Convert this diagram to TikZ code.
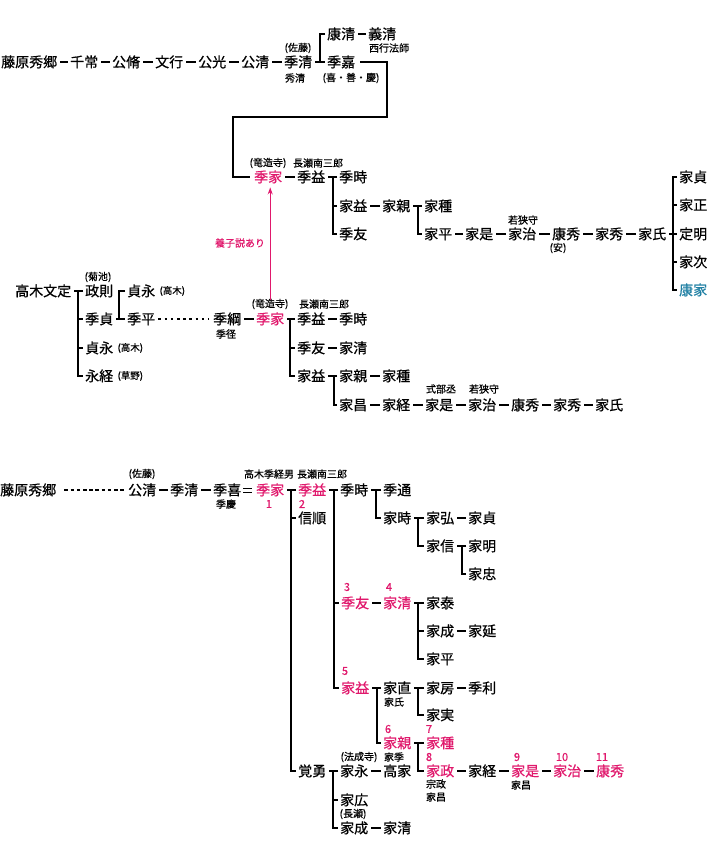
\documentclass[tikz,border=0pt]{standalone}
\usepackage{fontspec}
\setmainfont{Noto Sans CJK JP}[FakeBold=0.7]
\usetikzlibrary{arrows.meta}
\definecolor{kred}{HTML}{E0186C}
\definecolor{kteal}{HTML}{1F7FA3}
\begin{document}
\begin{tikzpicture}[x=1pt,y=-1pt,
  nm/.style={font=\fontsize{14}{14}\selectfont, inner sep=0pt, anchor=west, text height=11.4pt, text depth=1pt},
  rd/.style={nm, text=kred},
  sm/.style={font=\fontsize{10}{10}\selectfont, inner sep=0pt},
  xs/.style={font=\fontsize{9.5}{10}\selectfont, inner sep=0pt, anchor=west},
  num/.style={font=\fontsize{11}{11}\selectfont, inner sep=0pt, text=kred},
  ln/.style={line width=2.8pt, line join=miter},
  lk/.style={ln, shorten <=3pt, shorten >=2.5pt},
  arr/.style={kred, line width=1.1pt, -{Stealth[length=7pt,width=5pt]}}]
\useasboundingbox (0,0) rectangle (726,842);

% ---------------- section 1 ----------------
\node[nm] (a1) at (1,62) {藤原秀郷};
\node[nm] (a2) at (70,62) {千常};
\node[nm] (a3) at (112,62) {公脩};
\node[nm] (a4) at (155,62) {文行};
\node[nm] (a5) at (198,62) {公光};
\node[nm] (a6) at (241,62) {公清};
\node[nm] (a7) at (284,62) {季清};
\node[sm] (a7t) at (298,48) {(佐藤)};
\node[sm] (a7b) at (295,78) {秀清};
\node[nm] (a8) at (327,34) {康清};
\node[nm] (a9) at (368,34) {義清};
\node[sm] (a9b) at (389,48) {西行法師};
\node[nm] (a10) at (327,62) {季嘉};
\node[sm] (a10b) at (351,78) {(喜・善・慶)};
\coordinate (v0) at (320,0);
\foreach \p/\q in {a1/a2,a2/a3,a3/a4,a4/a5,a5/a6,a6/a7,a7/a10,a8/a9}
  \draw[lk] (\p.east) -- (\q.west);
\draw[ln] ([xshift=-2pt]a8.west) -| (v0 |- a10.west);

\node[rd] (b1) at (254,177) {季家};
\node[sm] (b1t) at (268,163) {(竜造寺)};
\node[sm] (b1u) at (318,163) {長瀬南三郎};
\coordinate (t1) at (387,117);
\coordinate (t2) at (233,117);
\draw[ln] ([xshift=5pt]a10.east) -| (t1) -- (t2) |- ([xshift=-4pt]b1.west);

\node[nm] (b2) at (297,177) {季益};
\node[nm] (b3) at (339,177) {季時};
\node[nm] (b4) at (339,206) {家益};
\node[nm] (b5) at (339,234) {季友};
\node[nm] (b6) at (382,206) {家親};
\node[nm] (b7) at (424,206) {家種};
\node[nm] (b8) at (424,234) {家平};
\node[nm] (b9) at (465,234) {家是};
\node[nm] (b10) at (508,234) {家治};
\node[sm] (b10t) at (523,220) {若狭守};
\node[nm] (b11) at (552,234) {康秀};
\node[sm] (b11b) at (558,248) {(安)};
\node[nm] (b12) at (595,234) {家秀};
\node[nm] (b13) at (638,234) {家氏};
\node[nm] (b14) at (679,177) {家貞};
\node[nm] (b15) at (679,205) {家正};
\node[nm] (b16) at (679,234) {定明};
\node[nm] (b17) at (679,262) {家次};
\node[nm, text=kteal] (b18) at (679,290) {康家};
\coordinate (v1) at (333,0);
\coordinate (v2) at (418,0);
\coordinate (v3) at (673,0);
\foreach \p/\q in {b1/b2,b2/b3,b4/b6,b6/b7,b8/b9,b9/b10,b10/b11,b11/b12,b12/b13,b13/b16}
  \draw[lk] (\p.east) -- (\q.west);
\draw[ln] ([xshift=-2pt]b3.west) -| (v1 |- b5.west) -- ([xshift=-2pt]b5.west);
\draw[ln] (v1 |- b4.west) -- ([xshift=-2pt]b4.west);
\draw[ln] ([xshift=-2pt]b7.west) -| (v2 |- b8.west) -- ([xshift=-2pt]b8.west);
\draw[ln] ([xshift=-2pt]b14.west) -| (v3 |- b18.west) -- ([xshift=-2pt]b18.west);
\foreach \c in {b15,b17} \draw[ln] (v3 |- \c.west) -- ([xshift=-2pt]\c.west);

% ---------------- section 2 ----------------
\node[nm] (c1) at (15,291) {高木文定};
\node[nm] (c2) at (85,291) {政則};
\node[sm] (c2t) at (98,277) {(菊池)};
\node[nm] (c3) at (85,319) {季貞};
\node[nm] (c4) at (85,348) {貞永};
\node[xs] (c4r) at ([xshift=4pt]c4.east) {(高木)};
\node[nm] (c5) at (85,376) {永経};
\node[xs] (c5r) at ([xshift=4pt]c5.east) {(草野)};
\node[nm] (c6) at (127,291) {貞永};
\node[xs] (c6r) at ([xshift=4pt]c6.east) {(高木)};
\node[nm] (c7) at (127,319) {季平};
\node[nm] (c8) at (213,319) {季綱};
\node[sm] (c8b) at (226,334) {季径};
\node[rd] (c9) at (256,319) {季家};
\node[sm] (c9t) at (270,304) {(竜造寺)};
\node[sm] (c9u) at (324,304) {長瀬南三郎};
\node[nm] (c10) at (297,319) {季益};
\node[nm] (c11) at (339,319) {季時};
\node[nm] (c12) at (297,348) {季友};
\node[nm] (c13) at (339,348) {家清};
\node[nm] (c14) at (297,376) {家益};
\node[nm] (c15) at (339,376) {家親};
\node[nm] (c16) at (382,376) {家種};
\node[nm] (c17) at (339,405) {家昌};
\node[nm] (c18) at (382,405) {家経};
\node[nm] (c19) at (425,405) {家是};
\node[sm] (c19t) at (441,389) {式部丞};
\node[nm] (c20) at (468,405) {家治};
\node[sm] (c20t) at (484,389) {若狭守};
\node[nm] (c21) at (511,405) {康秀};
\node[nm] (c22) at (553,405) {家秀};
\node[nm] (c23) at (595,405) {家氏};
\coordinate (v4) at (78,0);
\coordinate (v5) at (119,0);
\coordinate (v6) at (290,0);
\coordinate (v7) at (334,0);
\foreach \p/\q in {c1/c2,c3/c7,c8/c9,c9/c10,c10/c11,c12/c13,c14/c15,c15/c16,c17/c18,c18/c19,c19/c20,c20/c21,c21/c22,c22/c23}
  \draw[lk] (\p.east) -- (\q.west);
\draw[ln, dash pattern=on 2.6pt off 3.6pt] ([xshift=3pt]c7.east) -- ([xshift=-4pt]c8.west);
\draw[ln] ([xshift=-2pt]c2.west) -| (v4 |- c5.west) -- ([xshift=-2pt]c5.west);
\foreach \c in {c3,c4} \draw[ln] (v4 |- \c.west) -- ([xshift=-2pt]\c.west);
\draw[ln] ([xshift=-2pt]c6.west) -| (v5 |- c7.west);
\draw[ln] ([xshift=-2pt]c10.west) -| (v6 |- c14.west) -- ([xshift=-2pt]c14.west);
\draw[ln] (v6 |- c12.west) -- ([xshift=-2pt]c12.west);
\draw[ln] ([xshift=-2pt]c15.west) -| (v7 |- c17.west) -- ([xshift=-2pt]c17.west);

% adoption arrow
\coordinate (ar) at (c9.north |- b1.south);
\draw[arr] ([yshift=13pt]c9.north) -- ([yshift=-4pt]ar);
\node[sm, text=kred] (ys) at (240,243) {養子説あり};

% ---------------- section 3 ----------------
\node[nm] (d1) at (0,490) {藤原秀郷};
\node[nm] (d2) at (128,490) {公清};
\node[sm] (d2t) at (142,474) {(佐藤)};
\node[nm] (d3) at (170,490) {季清};
\node[nm] (d4) at (213,490) {季喜};
\node[sm] (d4b) at (226,504) {季慶};
\node[rd] (d5) at (256,490) {季家};
\node[num] (n1) at (269,504) {1};
\node[sm] (d5t) at (269,474) {高木季経男};
\node[sm] (d5u) at (322,474) {長瀬南三郎};
\node[rd] (d6) at (298,490) {季益};
\node[num] (n2) at (302,504) {2};
\node[nm] (d7) at (298,518) {信順};
\node[nm] (d8) at (340,490) {季時};
\node[nm] (d9) at (383,490) {季通};
\node[nm] (d10) at (383,518) {家時};
\node[nm] (d11) at (426,518) {家弘};
\node[nm] (d12) at (468,518) {家貞};
\node[nm] (d13) at (426,546) {家信};
\node[nm] (d14) at (468,546) {家明};
\node[nm] (d15) at (468,574) {家忠};
\node[rd] (d16) at (341,603) {季友};
\node[num] (n3) at (347,587) {3};
\node[rd] (d17) at (383,603) {家清};
\node[num] (n4) at (389,587) {4};
\node[nm] (d18) at (426,603) {家泰};
\node[nm] (d19) at (426,631) {家成};
\node[nm] (d20) at (468,631) {家延};
\node[nm] (d21) at (426,659) {家平};
\node[rd] (d22) at (341,688) {家益};
\node[num] (n5) at (345,671) {5};
\node[nm] (d23) at (383,688) {家直};
\node[sm] (d23b) at (394,702) {家氏};
\node[nm] (d24) at (426,688) {家房};
\node[nm] (d25) at (468,688) {季利};
\node[nm] (d26) at (426,715) {家実};
\node[rd] (d27) at (383,743) {家親};
\node[num] (n6) at (388,729) {6};
\node[rd] (d28) at (426,743) {家種};
\node[num] (n7) at (429,729) {7};
\node[rd] (d29) at (426,771) {家政};
\node[num] (n8) at (429,757) {8};
\node[sm] (d29b) at (436,784) {宗政};
\node[sm] (d29c) at (436,797) {家昌};
\node[nm] (d30) at (468,771) {家経};
\node[rd] (d31) at (511,771) {家是};
\node[num] (n9) at (517,757) {9};
\node[sm] (d31b) at (521,785) {家昌};
\node[rd] (d32) at (553,771) {家治};
\node[num] (n10) at (562,757) {10};
\node[rd] (d33) at (596,771) {康秀};
\node[num] (n11) at (602,757) {11};
\node[nm] (d34) at (298,771) {覚勇};
\node[nm] (d35) at (340,771) {家永};
\node[sm] (d35t) at (359,757) {(法成寺)};
\node[sm] (d36t) at (394,757) {家季};
\node[nm] (d36) at (383,771) {高家};
\node[nm] (d37) at (340,800) {家広};
\node[nm] (d38) at (340,828) {家成};
\node[sm] (d38t) at (353,814) {(長瀬)};
\node[nm] (d39) at (383,828) {家清};

\coordinate (v8) at (291,0);
\coordinate (v9) at (334,0);
\coordinate (v10) at (376,0);
\coordinate (v11) at (418,0);
\coordinate (v12) at (462,0);
\coordinate (v13) at (418,0);
\coordinate (v14) at (377,0);
\coordinate (v15) at (418,0);
\coordinate (v16) at (418,0);
\coordinate (v17) at (333,0);

\draw[ln, dash pattern=on 3.6pt off 2.6pt] ([xshift=8pt]d1.east) -- ([xshift=-3pt]d2.west);
\foreach \p/\q in {d2/d3,d3/d4,d5/d6,d6/d8,d8/d9,d10/d11,d11/d12,d13/d14,d16/d17,d17/d18,d19/d20,d22/d23,d23/d24,d24/d25,d27/d28,d29/d30,d30/d31,d31/d32,d32/d33,d34/d35,d35/d36,d38/d39}
  \draw[lk] (\p.east) -- (\q.west);
\draw[line width=0.9pt] ([xshift=2pt,yshift=2pt]d4.east) -- ([xshift=-4pt,yshift=2pt]d5.west);
\draw[line width=0.9pt] ([xshift=2pt,yshift=-2pt]d4.east) -- ([xshift=-4pt,yshift=-2pt]d5.west);

\draw[ln] ([xshift=-2pt]d6.west) -| (v8 |- d34.west) -- ([xshift=-2pt]d34.west);
\draw[ln] (v8 |- d7.west) -- ([xshift=-2pt]d7.west);
\draw[ln] ([xshift=-2pt]d8.west) -| (v9 |- d22.west) -- ([xshift=-2pt]d22.west);
\draw[ln] (v9 |- d16.west) -- ([xshift=-2pt]d16.west);
\draw[ln] ([xshift=-2pt]d9.west) -| (v10 |- d10.west) -- ([xshift=-2pt]d10.west);
\draw[ln] ([xshift=-2pt]d11.west) -| (v11 |- d13.west) -- ([xshift=-2pt]d13.west);
\draw[ln] ([xshift=-2pt]d14.west) -| (v12 |- d15.west) -- ([xshift=-2pt]d15.west);
\draw[ln] ([xshift=-2pt]d18.west) -| (v13 |- d21.west) -- ([xshift=-2pt]d21.west);
\draw[ln] (v13 |- d19.west) -- ([xshift=-2pt]d19.west);
\draw[ln] ([xshift=-2pt]d23.west) -| (v14 |- d27.west) -- ([xshift=-2pt]d27.west);
\draw[ln] ([xshift=-2pt]d24.west) -| (v15 |- d26.west) -- ([xshift=-2pt]d26.west);
\draw[ln] ([xshift=-2pt]d28.west) -| (v16 |- d29.west) -- ([xshift=-2pt]d29.west);
\draw[ln] ([xshift=-2pt]d35.west) -| (v17 |- d38.west) -- ([xshift=-2pt]d38.west);
\draw[ln] (v17 |- d37.west) -- ([xshift=-2pt]d37.west);
\end{tikzpicture}
\end{document}
